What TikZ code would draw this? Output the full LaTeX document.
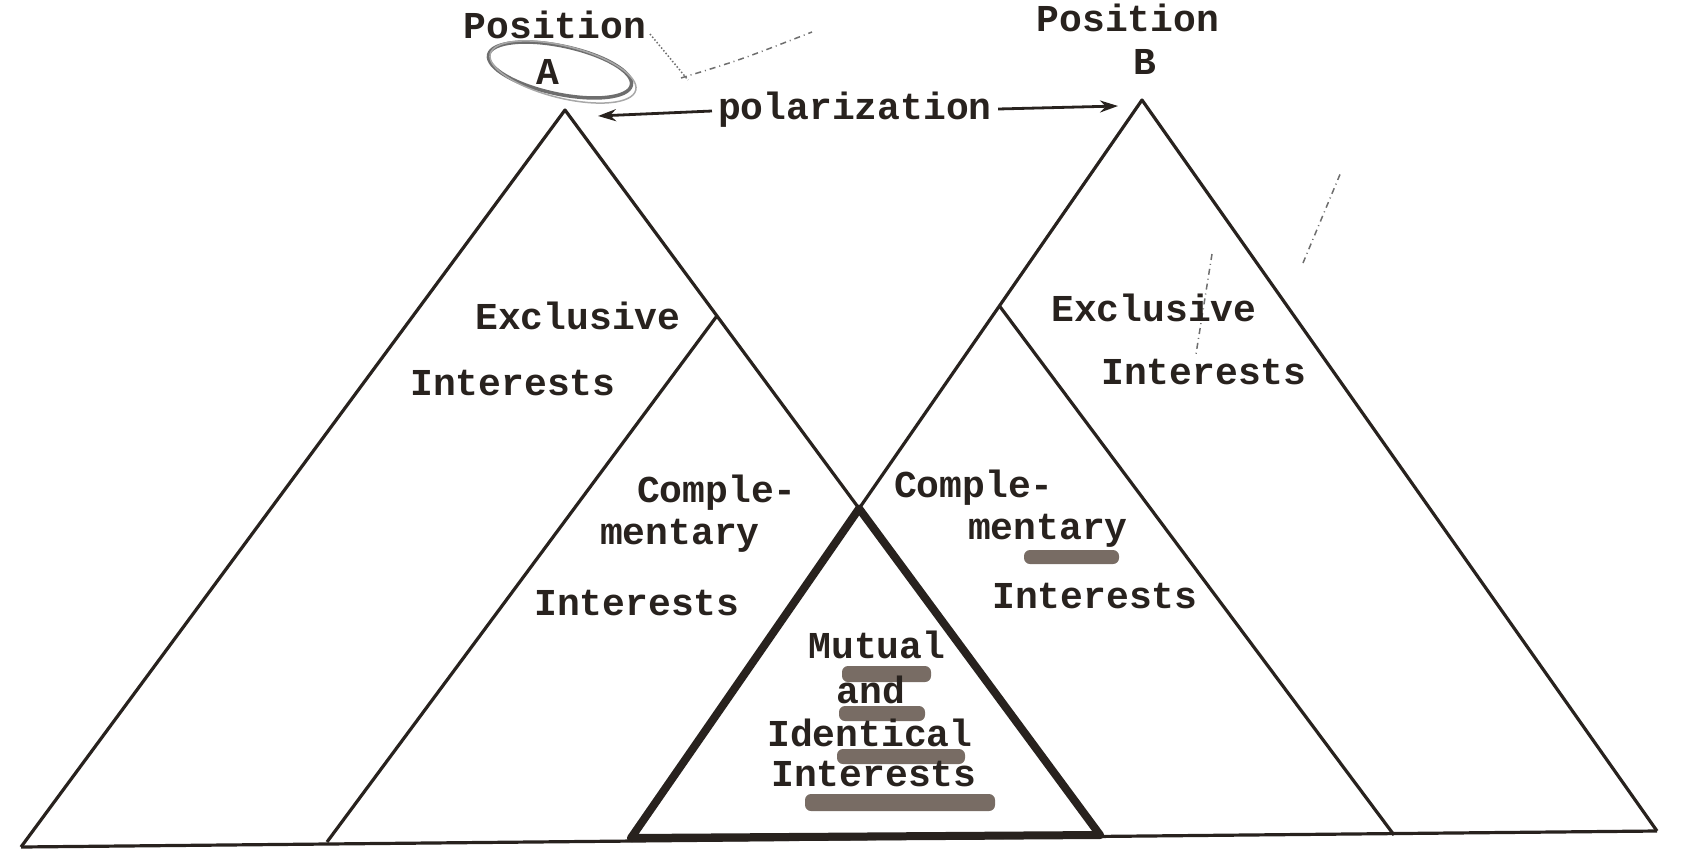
\documentclass[tikz,border=0pt]{standalone}
\usepackage{fontspec}
\setmonofont{Liberation Mono}
\usepackage{tikz}
\usetikzlibrary{arrows.meta,positioning,calc}
\definecolor{ink}{RGB}{40,34,30}
\definecolor{smear}{RGB}{120,108,100}
\definecolor{pencil}{RGB}{110,110,110}
\tikzset{
  labeltext/.style={font=\ttfamily\bfseries\fontsize{38}{40}\selectfont, text=ink, inner sep=0pt},
  thinline/.style={draw=ink, line width=3.2pt, line join=round},
  thickline/.style={draw=ink, line width=8pt, line join=round},
  polarrow/.style={-{Stealth[length=18pt,width=12pt]}, draw=ink, line width=2.8pt},
  smudge/.style={fill=smear, rounded corners=6pt, draw=none},
  strokemark/.style={draw=pencil, line width=1.5pt, dash pattern=on 6pt off 4pt on 1pt off 4pt}
}

\begin{document}
\begin{tikzpicture}[x=1pt,y=-1pt]
\useasboundingbox (0,0) rectangle (1682,852);

% corners of the triangles
\coordinate (aTop) at (565,110);
\coordinate (bTop) at (1142,100);
\coordinate (aLeft) at (21,847);
\coordinate (bRight) at (1657,831);
\coordinate (mLeft) at (631,838);
\coordinate (mRight) at (1100,835);
\coordinate (cALeft) at (327,842);
\coordinate (cBRight) at (1394,835);
\coordinate (mTop) at (intersection of aTop--mRight and bTop--mLeft);
\coordinate (cATop) at ($(aTop)!0.284!(mRight)$);
\coordinate (cBTop) at ($(bTop)!0.279!(mLeft)$);

% outer triangles
\draw[thinline] (aLeft) -- (bRight);
\draw[thinline] (aLeft) -- (aTop) -- (mTop);
\draw[thinline] (bRight) -- (bTop) -- (mTop);
\draw[thinline] (cATop) -- (cALeft);
\draw[thinline] (cBTop) -- (cBRight);
% mutual triangle
\draw[thickline] (mLeft) -- (mTop) -- (mRight) -- cycle;

% top labels
\node[labeltext] (posA) at (555,25) {Position};
\node[labeltext] (letA) at (548,72) {A};
\node[labeltext] (posB) at (1128,18) {Position};
\node[labeltext] (letB) at (1145,62) {B};
\draw[pencil, line width=3.5pt, rotate around={-12:(560,70)}] (560,70) ellipse [x radius=73, y radius=24];
\draw[pencil!60, line width=1.5pt, rotate around={-14:(563,72)}] (563,72) ellipse [x radius=75, y radius=26];

\node[labeltext] (polar) at (855,110) {polarization};
\coordinate (arrA) at (598,116);
\coordinate (arrB) at (1118,106);
\draw[polarrow] (polar.west) ++(-6,1) -- (arrA);
\draw[polarrow] (polar.east) ++(6,-1) -- (arrB);

% stray pen marks
\draw[strokemark] (681,78) .. controls (740,60) .. (812,32);
\draw[pencil, line width=1.5pt, dotted] (650,34) -- (688,80);
\draw[strokemark] (1303,263) -- (1341,172);
\draw[strokemark] (1212,254) -- (1196,354);

% left side
\node[labeltext] (exclA) at (578,316) {Exclusive};
\node[labeltext] (intA) at (513,383) {Interests};
\node[labeltext] (compA) at (717,493) {Comple-};
\node[labeltext] (mentA) at (680,536) {mentary};
\node[labeltext] (intCA) at (637,603) {Interests};

% right side
\node[labeltext] (exclB) at (1154,308) {Exclusive};
\node[labeltext] (intB) at (1204,372) {Interests};
\node[labeltext] (compB) at (974,488) {Comple-};
\node[labeltext] (mentB) at (1048,531) {mentary};
\node[labeltext] (intCB) at (1095,596) {Interests};

% middle
\fill[smudge] (1024,550) rectangle (1119,564);
\fill[smudge] (842,666) rectangle (931,682);
\fill[smudge] (839,706) rectangle (925,721);
\fill[smudge] (837,749) rectangle (965,764);
\fill[smudge] (805,794) rectangle (995,811);
\node[labeltext] (mut) at (877,645) {Mutual};
\node[labeltext] (andw) at (871,690) {and};
\node[labeltext] (ident) at (870,733) {Identical};
\node[labeltext] (intM) at (874,774) {Interests};
\end{tikzpicture}
\end{document}
